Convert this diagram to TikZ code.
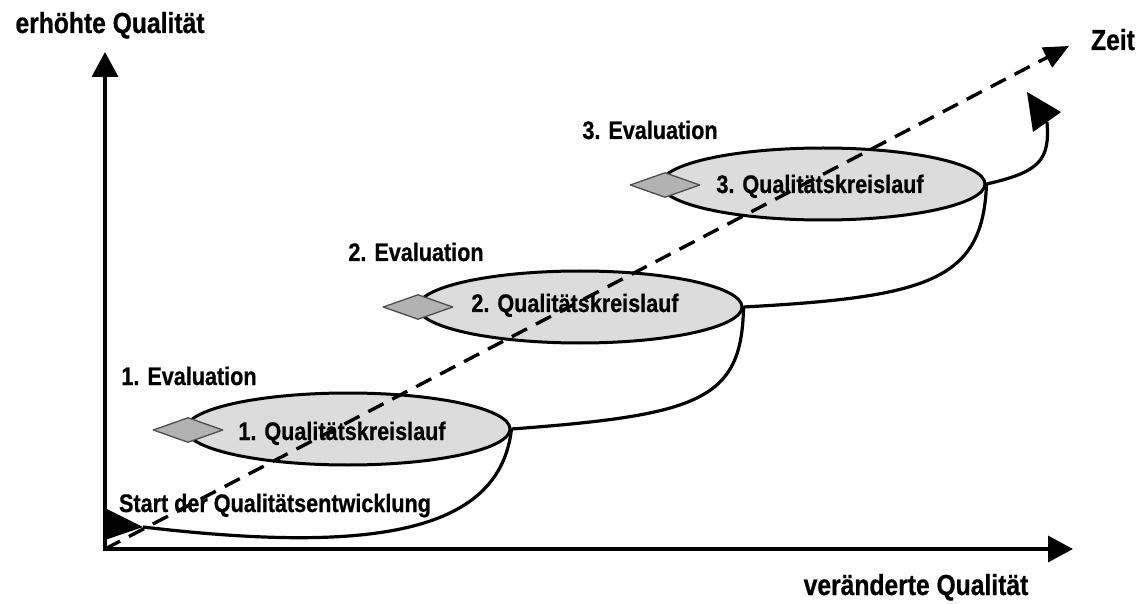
\documentclass[tikz,border=0pt]{standalone}
\usepackage{fontspec}
\setmainfont{Liberation Sans}[FakeStretch=0.85, BoldFeatures={FakeBold=0.7}]
\usetikzlibrary{shapes.geometric,arrows.meta}
\definecolor{ellfill}{HTML}{DCDCDC}
\definecolor{diafill}{HTML}{B2B2B2}
\definecolor{diaedge}{HTML}{4D4D4D}
\begin{document}
\begin{tikzpicture}[x=1pt,y=-1pt,line join=round]
\tikzset{
  lbl/.style={font=\fontsize{25.4}{30}\selectfont\bfseries, inner sep=0pt, anchor=base},
  axlbl/.style={font=\fontsize{29}{34}\selectfont\bfseries, inner sep=0pt, anchor=base},
  circuit/.style={ellipse, draw, line width=3pt, fill=ellfill, inner sep=0pt,
                  minimum width=324pt, minimum height=72pt},
  evalbox/.style={diamond, draw=diaedge, line width=1.3pt, fill=diafill, inner sep=0pt,
                  minimum width=70pt, minimum height=25pt},
  loopline/.style={draw, line width=3.2pt},
  axisline/.style={draw, line width=3.4pt, -{Triangle[length=25pt,width=26pt]}},
  timeline/.style={draw, line width=3.4pt, dash pattern=on 17pt off 10pt,
                   -{Triangle[length=25pt,width=22pt]}},
}
\useasboundingbox (0,0) rectangle (1144,604);

% axes
\coordinate (o) at (105,549);
\coordinate (ytip) at (105,52);
\coordinate (xtip) at (1073,549);
\draw[axisline] ([yshift=1.7pt]o) -- (ytip);
\draw[axisline] ([xshift=-1.7pt]o) -- (xtip);

% quality circuits
\node[circuit] (e1) at (348,429) {};
\node[circuit] (e2) at (580,307) {};
\node[circuit] (e3) at (823,184) {};

% loop path
\coordinate (s) at (143,527);
\coordinate (endc) at (1047,122);
\draw[loopline] (s) .. controls (380,555) and (500,530) .. (e1.east);
\draw[loopline] (e1.east) .. controls (700,415) and (742,400) .. (e2.east);
\draw[loopline] (e2.east) .. controls (930,297) and (983,280) .. (e3.east);
\draw[loopline] (e3.east) .. controls (1040,172) and (1050,160) .. (endc);
\fill (105,508) -- (s) -- (105,540) -- cycle;
\fill (1027,92) -- (1061,112) -- (1033,132) -- cycle;

% time axis
\coordinate (zt) at (1069,46);
\draw[timeline] (o) -- (zt);

% evaluation diamonds
\node[evalbox] (d1) at (188,430) {};
\node[evalbox] (d2) at (418,307) {};
\node[evalbox] (d3) at (665,185) {};

% texts
\node[lbl] (t1) at (342,440) {1. Qualitätskreislauf};
\node[lbl] (t2) at (575,312) {2. Qualitätskreislauf};
\node[lbl] (t3) at (820,193) {3. Qualitätskreislauf};
\node[lbl] (v1) at (189,385) {1. Evaluation};
\node[lbl] (v2) at (416,261) {2. Evaluation};
\node[lbl] (v3) at (650,139) {3. Evaluation};
\node[lbl] (st) at (275,512) {Start der Qualitätsentwicklung};
\node[axlbl] (yl) at (110,33) {erhöhte Qualität};
\node[axlbl] (zl) at (1113,50) {Zeit};
\node[axlbl] (xl) at (916,595) {veränderte Qualität};
\end{tikzpicture}
\end{document}
